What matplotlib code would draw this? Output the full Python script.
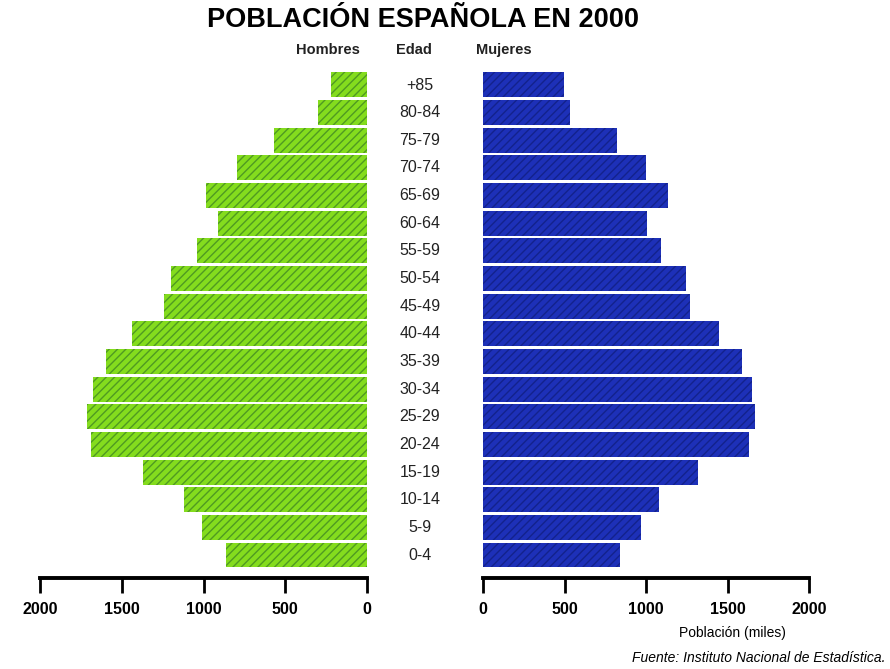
import matplotlib
matplotlib.use('agg')
import matplotlib.pyplot as plt

# Data: population (thousands), age groups bottom to top
age_groups = ["0-4", "5-9", "10-14", "15-19", "20-24", "25-29", "30-34", "35-39", "40-44",
              "45-49", "50-54", "55-59", "60-64", "65-69", "70-74", "75-79", "80-84", "+85"]
hombres = [860, 1012, 1122, 1372, 1689, 1713, 1677, 1598, 1439,
           1244, 1201, 1037, 909, 982, 793, 567, 299, 220]
mujeres = [839, 968, 1078, 1317, 1629, 1666, 1653, 1592, 1445,
           1268, 1243, 1090, 1004, 1133, 998, 821, 533, 496]
ticks = [0, 500, 1000, 1500, 2000]

W, H = 890, 669
fig = plt.figure(figsize=(W / 100, H / 100), dpi=100)
fig.patch.set_facecolor('white')

def px_axes(x0, x1, y_top, y_bot):
    return fig.add_axes([x0 / W, 1 - y_bot / H, (x1 - x0) / W, (y_bot - y_top) / H])

ax_h = px_axes(40, 367, 60, 578)
ax_m = px_axes(483, 809, 60, 578)

pos = list(range(len(age_groups)))
ax_h.barh(pos, hombres, height=0.9, color='#84dc1e', edgecolor='#4f9a22',
          hatch='////', linewidth=0)
ax_m.barh(pos, mujeres, height=0.9, color='#1d30b8', edgecolor='#13228c',
          hatch='////', linewidth=0)

for ax in (ax_h, ax_m):
    ax.set_ylim(-0.83, 17.9)
    ax.set_yticks([])
    for s in ('left', 'right', 'top'):
        ax.spines[s].set_visible(False)
    ax.spines['bottom'].set_linewidth(2.8)
    ax.set_xticks(ticks)
    ax.set_xticklabels([str(t) for t in ticks], fontsize=11.5, fontweight='bold',
                       family='Liberation Sans')
    ax.tick_params(axis='x', direction='out', length=11, width=2, pad=6)
    ax.set_facecolor('none')

ax_h.set_xlim(2000, 0)
ax_m.set_xlim(0, 2000)

# age labels in the middle
for i, lab in enumerate(age_groups):
    yy = 555 - i * (470 / 17)
    fig.text(420 / W, 1 - yy / H, lab, ha='center', va='center', fontsize=11.5,
             color='#222222', family='Liberation Sans')

fig.text(423 / W, 1 - 20 / H, "POBLACIÓN ESPAÑOLA EN 2000", ha='center', va='center',
         fontsize=19.5, fontweight='bold', family='Liberation Sans')
fig.text(360 / W, 1 - 50 / H, "Hombres", ha='right', va='center', fontsize=10.5,
         fontweight='bold', family='Liberation Sans', color='#222222')
fig.text(414 / W, 1 - 50 / H, "Edad", ha='center', va='center', fontsize=10.5,
         fontweight='bold', family='Liberation Sans', color='#222222')
fig.text(476 / W, 1 - 50 / H, "Mujeres", ha='left', va='center', fontsize=10.5,
         fontweight='bold', family='Liberation Sans', color='#222222')
fig.text(786 / W, 1 - 633 / H, "Población (miles)", ha='right', va='center', fontsize=10,
         family='Liberation Sans')
fig.text(886 / W, 1 - 658 / H, "Fuente: Instituto Nacional de Estadística.", ha='right',
         va='center', fontsize=10, style='italic', family='Liberation Sans')

fig.savefig('out.png', dpi=100, facecolor='white')
